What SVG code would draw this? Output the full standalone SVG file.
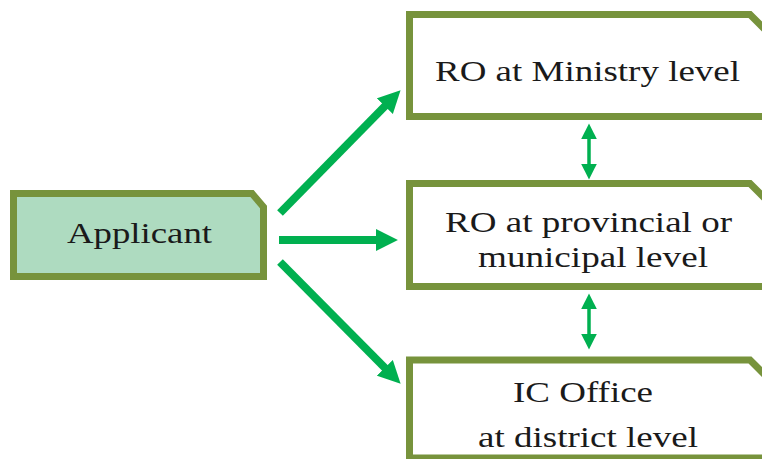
<svg xmlns="http://www.w3.org/2000/svg" width="762" height="459" viewBox="0 0 762 459">
  <style>
    .box { fill: #ffffff; stroke: #77933C; stroke-width: 7; stroke-linejoin: miter; }
    .applicant { fill: #AEDBC0; }
    .label { font-family: "Liberation Serif", "Times New Roman", "DejaVu Serif", serif; font-size: 29px; fill: #1a1a1a; }
    .flow { stroke: #00B050; stroke-width: 8; fill: none; }
    .link { stroke: #00B050; stroke-width: 3.5; fill: none; }
  </style>
  <defs>
    <marker id="head" viewBox="0 0 10 10" refX="2" refY="5" markerWidth="2.8" markerHeight="3" orient="auto" markerUnits="strokeWidth">
      <path d="M0,0 L10,5 L0,10 Z" fill="#00B050"/>
    </marker>
    <marker id="tip" viewBox="0 0 10 10" refX="2" refY="5" markerWidth="4.5" markerHeight="5.6" orient="auto-start-reverse" markerUnits="strokeWidth">
      <path d="M0,0 L10,5 L0,10 Z" fill="#00B050"/>
    </marker>
  </defs>

  <g id="applicant">
    <path class="box applicant" d="M13.5,193.5 H252 L263.5,207 V276.5 H13.5 Z"/>
    <text class="label" x="67" y="243" textLength="145" lengthAdjust="spacingAndGlyphs">Applicant</text>
  </g>

  <g id="ministry">
    <path class="box" d="M409.5,14.5 H750 L772,36.5 V116.5 H409.5 Z"/>
    <text class="label" x="435" y="81" textLength="305" lengthAdjust="spacingAndGlyphs">RO at Ministry level</text>
  </g>

  <g id="provincial">
    <path class="box" d="M409.5,183.5 H750 L772,205.5 V286.5 H409.5 Z"/>
    <text class="label" x="445" y="232" textLength="287" lengthAdjust="spacingAndGlyphs">RO at provincial or</text>
    <text class="label" x="478" y="267" textLength="230" lengthAdjust="spacingAndGlyphs">municipal level</text>
  </g>

  <g id="district">
    <path class="box" d="M409.5,360 H750 L772,382 V458 H409.5 Z"/>
    <text class="label" x="513" y="402" textLength="140" lengthAdjust="spacingAndGlyphs">IC Office</text>
    <text class="label" x="478" y="447" textLength="220" lengthAdjust="spacingAndGlyphs">at district level</text>
  </g>

  <g id="connectors">
    <line class="flow" x1="280" y1="213" x2="388" y2="103" marker-end="url(#head)"/>
    <line class="flow" x1="279" y1="240" x2="380" y2="240" marker-end="url(#head)"/>
    <line class="flow" x1="280" y1="262" x2="388" y2="371" marker-end="url(#head)"/>
    <line class="link" x1="589" y1="136" x2="589" y2="167" marker-start="url(#tip)" marker-end="url(#tip)"/>
    <line class="link" x1="589" y1="306" x2="589" y2="337" marker-start="url(#tip)" marker-end="url(#tip)"/>
  </g>
</svg>
